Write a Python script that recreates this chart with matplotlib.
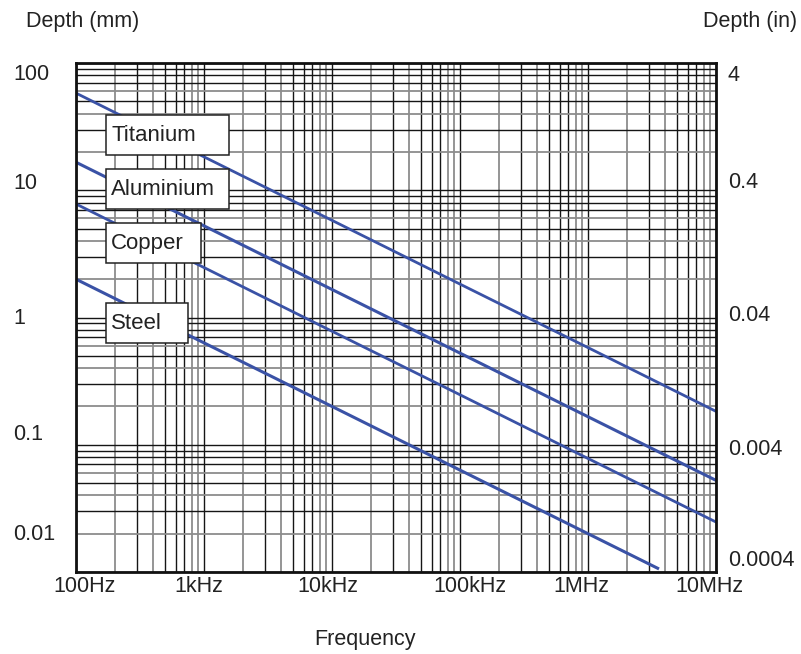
import numpy as np
import matplotlib
matplotlib.use('Agg')
from matplotlib import pyplot as plt
from matplotlib import transforms
from matplotlib.patches import Rectangle

plt.rcParams['font.family'] = ['Liberation Sans', 'DejaVu Sans']

# skin depth, at each decade of frequency
freq_hz = [1e2, 1e3, 1e4, 1e5, 1e6, 1e7]
titanium_mm = [58, 18.3, 5.8, 1.83, 0.58, 0.183]
aluminium_mm = [16.6, 5.25, 1.66, 0.525, 0.166, 0.0525]
copper_mm = [7.8, 2.47, 0.78, 0.247, 0.078, 0.0247]
steel_freq_hz = [1e2, 1e3, 1e4, 1e5, 1e6, 3.5e6]
steel_mm = [2.0, 0.632, 0.2, 0.0632, 0.02, 0.0107]

materials = ['Titanium', 'Aluminium', 'Copper', 'Steel']

x_ticks = [1e2, 1e3, 1e4, 1e5, 1e6, 1e7]
x_labels = ['100Hz', '1kHz', '10kHz', '100kHz', '1MHz', '10MHz']
mm_ticks = [100, 10, 1, 0.1, 0.01]
mm_labels = ['100', '10', '1', '0.1', '0.01']
in_ticks = [4, 0.4, 0.04, 0.004, 0.0004]
in_labels = ['4', '0.4', '0.04', '0.004', '0.0004']

blue = '#3a52a6'
dark = '#151515'
grey = '#8c8c8c'
W, H = 801, 654

fig = plt.figure(figsize=(W / 100, H / 100), dpi=100)
ax = fig.add_axes([76 / W, 82 / H, 640 / W, 509 / H])
ax.set_xscale('log')
ax.set_yscale('log')
ax.set_xlim(1e2, 1e7)
ax.set_ylim(0.01, 100)

# log grid, some minor lines grey like the printed chart
minor_x = [m * 10.0 ** e for e in range(2, 7) for m in range(2, 10)]
minor_y = [m * 10.0 ** e for e in range(-2, 2) for m in range(2, 10)]
ax.set_xticks(x_ticks)
ax.set_xticks(minor_x, minor=True)
ax.set_yticks(mm_ticks)
ax.set_yticks(minor_y, minor=True)
ax.grid(which='both', color=dark, lw=1.0)
ax.tick_params(which='both', length=0, labelbottom=False, labelleft=False)

for t, v in zip(ax.xaxis.get_minor_ticks(), minor_x):
    m = int(round(v / 10 ** np.floor(np.log10(v))))
    if m in (2, 4, 8, 9):
        t.gridline.set_color(grey)
        t.gridline.set_linewidth(1.3)
for t, v in zip(ax.yaxis.get_minor_ticks(), minor_y):
    m = int(round(v / 10 ** np.floor(np.log10(v))))
    if m in (2, 4, 6):
        t.gridline.set_color(grey)
        t.gridline.set_linewidth(1.3)

for s in ax.spines.values():
    s.set_linewidth(2.0)
    s.set_color('#111111')
    s.set_zorder(6)

ax.plot(freq_hz, titanium_mm, color=blue, lw=2.0)
ax.plot(freq_hz, aluminium_mm, color=blue, lw=2.2)
ax.plot(freq_hz, copper_mm, color=blue, lw=2.0)
ax.plot(steel_freq_hz, steel_mm, color=blue, lw=2.2)

# name boxes (axes fraction: bottom, width)
boxes = [(0.8193, 0.1917), (0.7126, 0.1917), (0.6077, 0.149), (0.4493, 0.1276)]
for name, (y0, w) in zip(materials, boxes):
    ax.add_patch(Rectangle((0.0469, y0), w, 0.0788, transform=ax.transAxes,
                           facecolor='white', edgecolor='#222222', lw=1.1,
                           zorder=5))
    ax.text(0.0547, y0 + 0.0275, name, transform=ax.transAxes, fontsize=16,
            ha='left', va='baseline', color='#222222', zorder=7)

def shift(dx, dy):
    return transforms.ScaledTranslation(dx / 100, dy / 100, fig.dpi_scale_trans)

left_tr = transforms.blended_transform_factory(fig.transFigure, ax.transData)
mm_dy = [-11.5, 6.5, -0.5, 10, 38]
for v, lab, dy in zip(mm_ticks, mm_labels, mm_dy):
    ax.text(13 / W, v, lab, transform=left_tr + shift(0, dy), fontsize=15.5,
            ha='left', va='center', color='#222222')

in_dy = [-13, 6.5, 1, -5.5, 11]
for v, lab, dy in zip(in_ticks, in_labels, in_dy):
    ax.text(728 / W, v * 25.4, lab, transform=left_tr + shift(0, dy),
            fontsize=15.5, ha='left', va='center', color='#222222')

bot_tr = transforms.blended_transform_factory(ax.transData, fig.transFigure)
x_dx = [8.5, -5, -4.5, 9.5, -6.5, -7]
for v, lab, dx in zip(x_ticks, x_labels, x_dx):
    ax.text(v, (H - 587) / H, lab, transform=bot_tr + shift(dx, 0),
            fontsize=15.5, ha='center', va='center', color='#222222')

fig.text(26 / W, (H - 22) / H, 'Depth (mm)', fontsize=15.5, ha='left',
         va='center', color='#222222')
fig.text(797 / W, (H - 22) / H, 'Depth (in)', fontsize=15.5, ha='right',
         va='center', color='#222222')
fig.text(365 / W, (H - 640) / H, 'Frequency', fontsize=15.5, ha='center',
         va='center', color='#222222')

fig.savefig('out.png', dpi=100)
